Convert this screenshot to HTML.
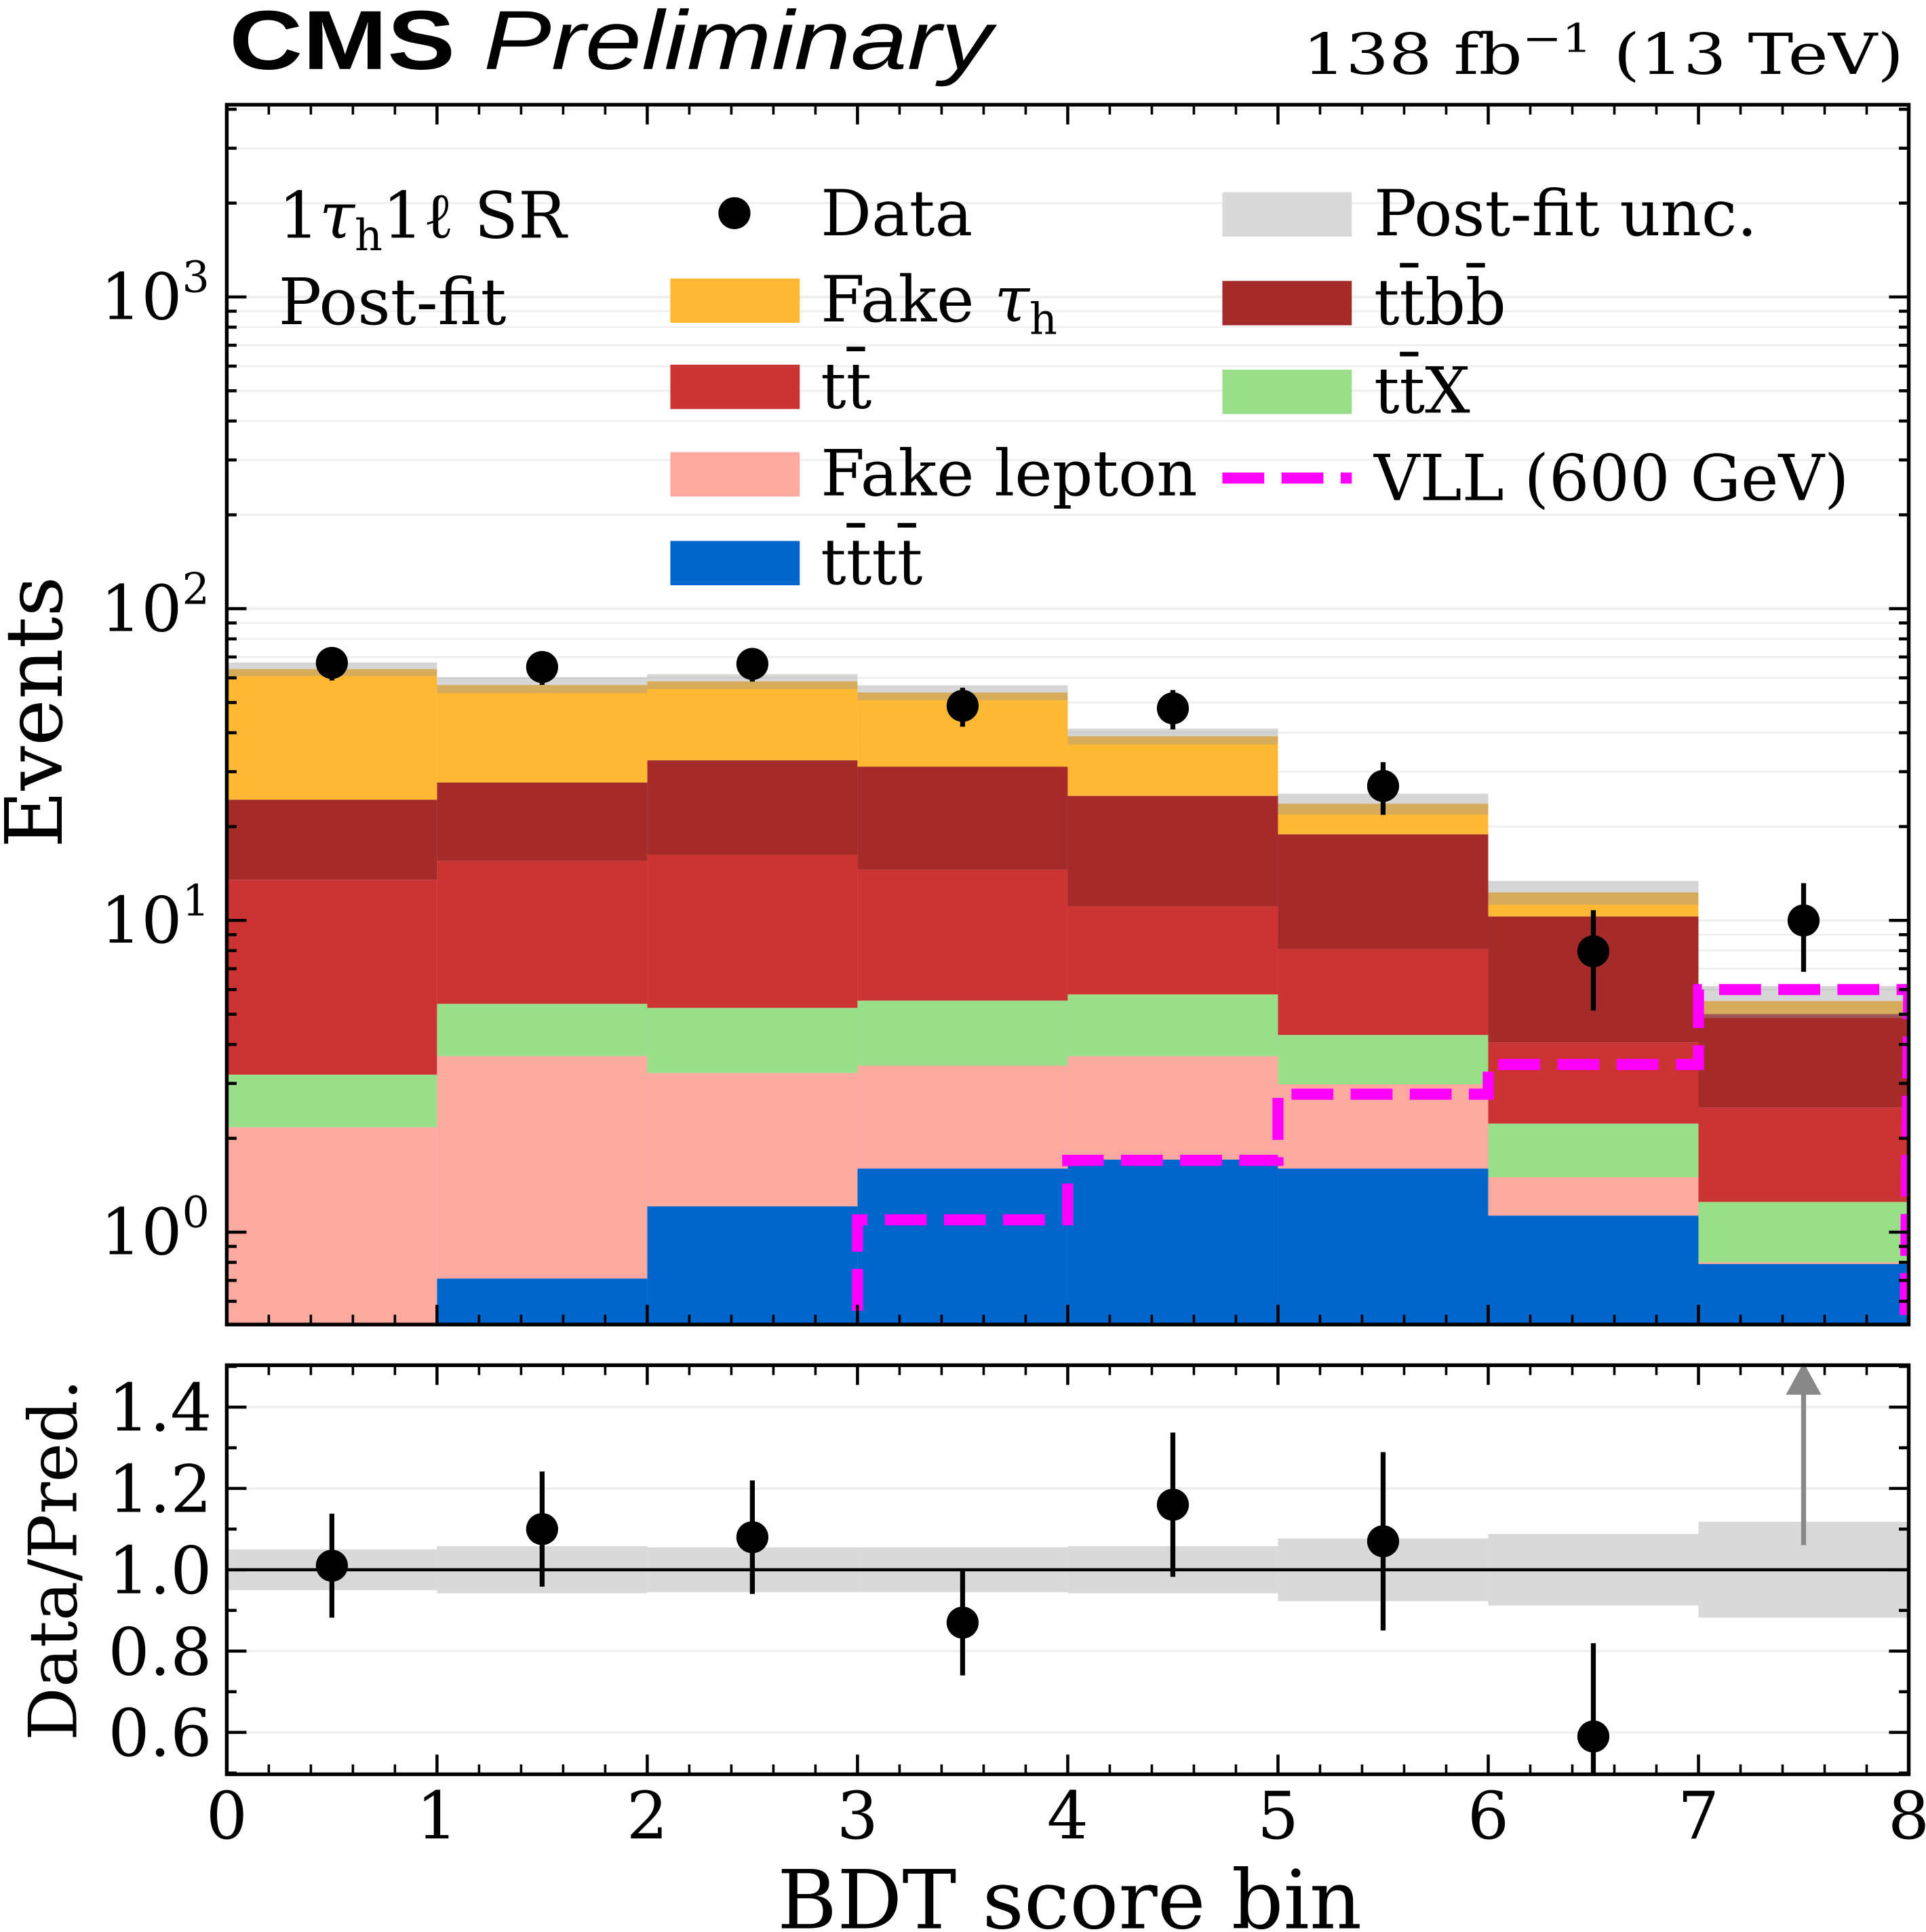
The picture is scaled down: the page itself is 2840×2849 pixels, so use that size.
<!DOCTYPE html>
<html><head><meta charset="utf-8"><style>
html,body{margin:0;padding:0;background:#fff}
svg{display:block}
text{font-family:"DejaVu Serif","Liberation Serif",serif;fill:#000}
</style></head><body>
<svg id="c" width="2840" height="2849" viewBox="0 0 1563 1568" xmlns="http://www.w3.org/2000/svg">
<g id="grid"></g>
<g id="stack"></g>
<g id="unc"></g>
<g id="vll"></g>
<g id="data"></g>
<g id="ratio"></g>
<g id="axes"></g>
<text x="186" y="56" font-size="68" font-weight="bold" textLength="619" lengthAdjust="spacingAndGlyphs" style="font-family:'Liberation Sans',sans-serif">CMS <tspan font-weight="normal" font-style="italic">Preliminary</tspan></text>
<text x="1545" y="60" font-size="46" text-anchor="end" textLength="488" lengthAdjust="spacingAndGlyphs">138 fb<tspan dy="-18" font-size="32">−1</tspan><tspan dy="18"> (13 TeV)</tspan></text>
<text x="226" y="193" font-size="52">1<tspan font-style="italic">τ</tspan><tspan dy="10" font-size="35">h</tspan><tspan dy="-10">1ℓ SR</tspan></text>
<text x="226" y="263" font-size="52">Post-fit</text>
<text transform="translate(50,578) rotate(-90)" font-size="64" text-anchor="middle">Events</text>
<text transform="translate(62,1266) rotate(-90)" font-size="54" text-anchor="middle">Data/Pred.</text>
<text x="868" y="1565" font-size="66" text-anchor="middle">BDT score bin</text>
<g id="legend"></g>
</svg>
<script>
const bins=[0,1,2,3,4,5,6,7];
const tttt=[0.0,0.71,1.21,1.6,1.71,1.6,1.13,0.79];
const fakeLep=[2.17,2.96,2.03,1.82,1.96,1.38,0.37,0.01];
const ttX=[1.03,1.73,2.0,2.11,2.12,1.31,0.73,0.45];
const tt=[10.3,10.1,11.0,9.0,5.3,3.8,1.83,1.26];
const ttbb=[10.9,12.2,16.4,16.6,14.0,10.8,6.24,2.5];
const fakeTau=[39.6,29.2,25.8,22.7,13.9,4.8,2.0,0.5];
const relUnc=[0.05,0.058,0.055,0.055,0.058,0.077,0.088,0.118];
const dataVals=[67,65,66.5,48.8,47.9,27,7.96,10];
const ratioVals=[1.01,1.10,1.08,0.87,1.16,1.07,0.59,2.0];
const vllVals=[0,0,0,1.095,1.7,2.77,3.45,6.0];
const yTicks=[1,10,100,1000];
const yTickLabels=["0","1","2","3"];
const rTicks=[0.6,0.8,1.0,1.2,1.4];
const xTicks=[0,1,2,3,4,5,6,7,8];

const NS="http://www.w3.org/2000/svg";
const X0=184,X1=1549,Y0=85,Y1=1075,R0=1108,R1=1440;
const xs=v=>X0+(X1-X0)*v/8;
const ys=v=>1000-253*Math.log10(v);
const rs=v=>1274-(v-1)*330;
function mk(p,t,a){const e=document.createElementNS(NS,t);for(const k in a)e.setAttribute(k,a[k]);p.appendChild(e);return e;}
const G=id=>document.getElementById(id);
const clipY=y=>Math.min(Math.max(y,Y0),Y1);

for(let d=-1;d<=3;d++)for(let m=1;m<=9;m++){const v=m*Math.pow(10,d);const y=ys(v);if(y<Y0||y>Y1)continue;
 const l=mk(G('grid'),'line',{x1:X0,x2:X1,y1:y,y2:y,stroke:'#eeeeee','stroke-width':m==1?2:1.5});
 
 }
rTicks.forEach(v=>{const l=mk(G('grid'),'line',{x1:X0,x2:X1,y1:rs(v),y2:rs(v),stroke:'#eeeeee','stroke-width':2});
 
 });

const comps=[[tttt,'#0066cc','tttt'],[fakeLep,'#fca99f','fake-lepton'],[ttX,'#99de88','ttx'],[tt,'#cc3333','tt'],[ttbb,'#a52a2a','ttbb'],[fakeTau,'#ffb833','fake-tau']];
const totals=bins.map(()=>0);
comps.forEach(([arr,col,nm])=>{bins.forEach(i=>{const lo=totals[i],hi=lo+arr[i];totals[i]=hi;
 const yb=lo<=0?Y1:clipY(ys(lo)),yt=hi<=0?Y1:clipY(ys(hi));if(yb-yt<=0)return;
 const r=mk(G('stack'),'rect',{x:xs(i),y:yt,width:xs(i+1)-xs(i),height:yb-yt,fill:col});
 
 });});
bins.forEach(i=>{const t=totals[i];const y1=ys(t*(1+relUnc[i])),y2=ys(t*(1-relUnc[i]));
 const r=mk(G('unc'),'rect',{x:xs(i),y:y1,width:xs(i+1)-xs(i),height:y2-y1,fill:'#999999','fill-opacity':0.4});
 
 
 const q=mk(G('ratio'),'rect',{x:xs(i),y:rs(1+relUnc[i]),width:xs(i+1)-xs(i),height:rs(1-relUnc[i])-rs(1+relUnc[i]),fill:'#d9d9d9'});
 
 });
let d='';bins.forEach(i=>{const y=vllVals[i]>0?clipY(ys(vllVals[i])):Y1+5;
 d+=(i==0?'M'+xs(i)+' '+y:'L'+xs(i)+' '+y)+' L'+xs(i+1)+' '+y+' ';});
d+='L'+(X1-3)+' '+Y1;
const vp=mk(G('vll'),'path',{d:d,fill:'none',stroke:'#ff00ff','stroke-width':9,'stroke-dasharray':'34 14'});


mk(G('c'),'defs',{}).innerHTML='<clipPath id="pc"><rect x="184" y="85" width="1365" height="990"/></clipPath>';
G('vll').setAttribute('clip-path','url(#pc)');
bins.forEach(i=>{const v=dataVals[i],cx=xs(i+0.5),e=Math.sqrt(v);
 const l=mk(G('data'),'line',{x1:cx,x2:cx,y1:ys(v+e),y2:ys(Math.max(v-e,0.6)),stroke:'#000','stroke-width':4});
 
 
 const c=mk(G('data'),'circle',{cx:cx,cy:ys(v),r:13,fill:'#000'});
 
 
 const r=ratioVals[i],re=e/totals[i];
 if(r<=1.5){const rl=mk(G('ratio'),'line',{x1:cx,x2:cx,y1:Math.max(rs(r+re),R0),y2:Math.min(rs(r-re),R1),stroke:'#000','stroke-width':4});
  
  
  const rc=mk(G('ratio'),'circle',{cx:cx,cy:rs(r),r:13,fill:'#000'});
  
  }
 else{const a=mk(G('ratio'),'path',{d:`M${cx} 1254 L${cx} 1125 M${cx-11} 1130 L${cx} 1110 L${cx+11} 1130 Z`,stroke:'#888','stroke-width':4,fill:'#888'});
  
  }});
const one=mk(G('ratio'),'line',{x1:X0,x2:X1,y1:rs(1),y2:rs(1),stroke:'#000','stroke-width':2.5});


[[Y0,Y1],[R0,R1]].forEach(([a,b],k)=>{const f=mk(G('axes'),'rect',{x:X0,y:a,width:X1-X0,height:b-a,fill:'none',stroke:'#000','stroke-width':3});
 
 
 xTicks.forEach(t=>{const x=xs(t);mk(G('axes'),'line',{x1:x,x2:x,y1:b,y2:b-16,stroke:'#000','stroke-width':2.5});mk(G('axes'),'line',{x1:x,x2:x,y1:a,y2:a+16,stroke:'#000','stroke-width':2.5});
  for(let m=1;m<5&&t<8;m++){const xm=xs(t+m/5);mk(G('axes'),'line',{x1:xm,x2:xm,y1:b,y2:b-8,stroke:'#000','stroke-width':2});mk(G('axes'),'line',{x1:xm,x2:xm,y1:a,y2:a+8,stroke:'#000','stroke-width':2});}});});
for(let dd=-1;dd<=3;dd++)for(let m=1;m<=9;m++){const y=ys(m*Math.pow(10,dd));if(y<Y0||y>Y1)continue;const L=m==1?16:8;
 mk(G('axes'),'line',{x1:X0,x2:X0+L,y1:y,y2:y,stroke:'#000','stroke-width':2.5});mk(G('axes'),'line',{x1:X1,x2:X1-L,y1:y,y2:y,stroke:'#000','stroke-width':2.5});}
yTicks.forEach((v,i)=>{const t=mk(G('axes'),'text',{x:170,y:ys(v)+18,'font-size':52,'text-anchor':'end'});
 t.innerHTML='10<tspan dy="-22" font-size="35">'+yTickLabels[i]+'</tspan>';
 
 });
for(let v=0.5;v<1.501;v+=0.1){const y=rs(v),L=Math.abs((v*10)%2-0)<0.01||Math.abs((v*10)%2-2)<0.01?16:8;
 mk(G('axes'),'line',{x1:X0,x2:X0+L,y1:y,y2:y,stroke:'#000','stroke-width':2.5});mk(G('axes'),'line',{x1:X1,x2:X1-L,y1:y,y2:y,stroke:'#000','stroke-width':2.5});}
rTicks.forEach(v=>{const t=mk(G('axes'),'text',{x:172,y:rs(v)+19,'font-size':53,'text-anchor':'end'});t.textContent=v.toFixed(1);
 
 });
xTicks.forEach(v=>{const t=mk(G('axes'),'text',{x:xs(v),y:1492,'font-size':53,'text-anchor':'middle'});t.textContent=v;
 
 });
const leg=[[596,173,'dot','#000','Data'],[544,243,'rect','#ffb833','Fake <tspan font-style="italic">τ</tspan><tspan dy="10" font-size="35">h</tspan>'],[544,313,'rect','#cc3333','tt̄'],[544,384,'rect','#fca99f','Fake lepton'],[544,456,'rect','#0066cc','tt̄tt̄'],
[992,173,'rect','#d9d9d9','Post-fit unc.'],[992,245,'rect','#a52a2a','tt̄bb̄'],[992,317,'rect','#99de88','tt̄X'],[992,388,'dash','#ff00ff','VLL (600 GeV)']];
leg.forEach(([x,y,k,c,txt])=>{const g=mk(G('legend'),'g',{});
 
 
 if(k=='dot')mk(g,'circle',{cx:x,cy:y,r:13,fill:c});
 else if(k=='rect')mk(g,'rect',{x:x,y:y-17,width:105,height:36,fill:c});
 else mk(g,'line',{x1:x,x2:x+105,y1:y,y2:y,stroke:c,'stroke-width':9,'stroke-dasharray':'34 14'});
 const tx=mk(g,'text',{x:(x<900?666:1115),y:y+18,'font-size':51.5});tx.innerHTML=txt;});
</script>
</body></html>
